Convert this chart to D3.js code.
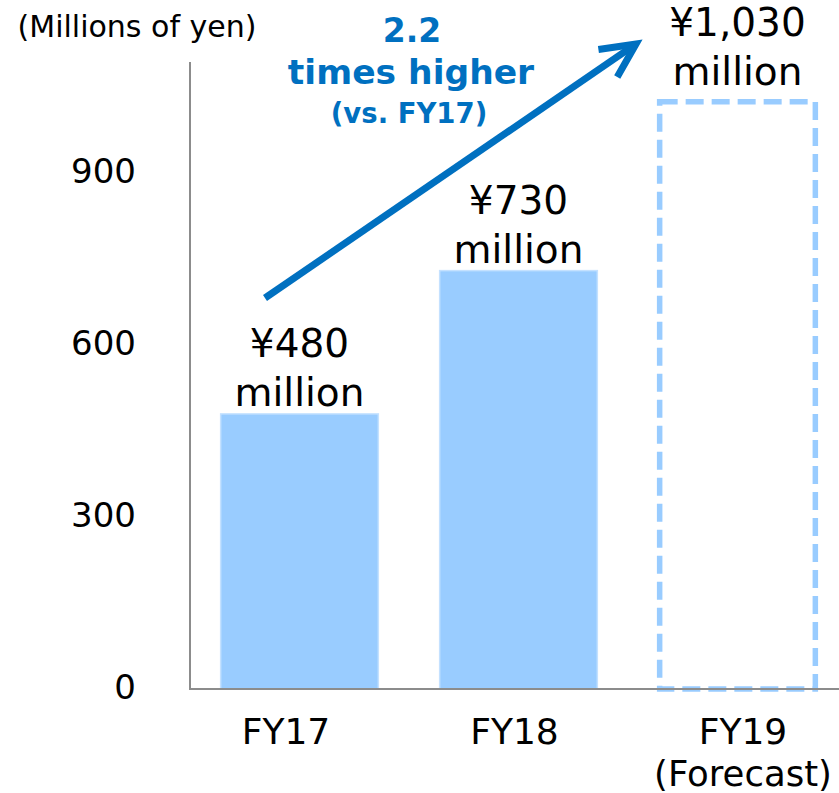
<!DOCTYPE html>
<html>
<head>
<meta charset="utf-8">
<script src="https://cdn.jsdelivr.net/npm/d3@7"></script>
<style>
  html, body { margin: 0; padding: 0; background: #ffffff; }
  svg { display: block; font-family: "DejaVu Sans", Verdana, sans-serif; }
</style>
</head>
<body>
<svg id="chart" width="839" height="793"></svg>
<script>
// Net sales by fiscal year (millions of yen)
const categories = ["FY17", "FY18", "FY19"];
const subLabels = ["", "", "(Forecast)"];
const values = [480, 730, 1030];
const isForecast = [false, false, true];
const yTicks = [0, 300, 600, 900];
const yMax = 1094;
const unitLabel = "(Millions of yen)";
const growthLines = ["2.2", "times higher", "(vs. FY17)"];

const svg = d3.select("#chart");
const W = 839, H = 793;
const plotLeft = 190, plotBottom = 689, plotTop = 62, plotRight = 847;

const x = d3.scaleBand().domain(categories).range([plotLeft, plotRight])
  .paddingInner(0.28).paddingOuter(0.14);
// Category captions sit on their own, slightly wider spacing
const xLabel = d3.scalePoint().domain(categories).range([286, 743]);
const y = d3.scaleLinear().domain([0, yMax]).range([plotBottom, plotTop]);

const data = categories.map((c, i) => ({ c, v: values[i], f: isForecast[i], sub: subLabels[i] }));

const barFill = "#99CCFF";
const blue = "#0070C0";
const axisColor = "#8c8c8c";

// Bars (actuals filled, forecast as dashed outline)
svg.append("g").selectAll("rect.actual")
  .data(data.filter(d => !d.f))
  .join("rect")
  .attr("class", "actual")
  .attr("x", d => x(d.c))
  .attr("y", d => y(d.v))
  .attr("width", x.bandwidth())
  .attr("height", d => y(0) - y(d.v))
  .attr("fill", barFill)
  .attr("stroke", "#c4e1ff")
  .attr("stroke-width", 1.5);

svg.append("g").selectAll("rect.forecast")
  .data(data.filter(d => d.f))
  .join("rect")
  .attr("class", "forecast")
  .attr("x", d => x(d.c) + 1)
  .attr("y", d => y(d.v) + 3)
  .attr("width", x.bandwidth() - 2)
  .attr("height", d => y(0) - y(d.v) - 3)
  .attr("fill", "none")
  .attr("stroke", barFill)
  .attr("stroke-width", 5.5)
  .attr("stroke-dasharray", "18 8");

// Axes: plain grey lines, no tick marks
svg.append("line")
  .attr("x1", plotLeft).attr("x2", W)
  .attr("y1", y(0)).attr("y2", y(0))
  .attr("stroke", axisColor).attr("stroke-width", 2);
svg.append("line")
  .attr("x1", plotLeft).attr("x2", plotLeft)
  .attr("y1", y(yMax)).attr("y2", y(0) + 1)
  .attr("stroke", axisColor).attr("stroke-width", 2);

// Y tick labels
svg.append("g").selectAll("text")
  .data(yTicks)
  .join("text")
  .attr("x", 136)
  .attr("y", d => y(d) + 10)
  .attr("text-anchor", "end")
  .attr("font-size", 34)
  .attr("fill", "#000")
  .text(d => d3.format(",")(d));

// Unit label
svg.append("text")
  .attr("x", 137).attr("y", 37)
  .attr("text-anchor", "middle")
  .attr("font-size", 30)
  .attr("fill", "#000")
  .text(unitLabel);

// Category labels
const xl = svg.append("g").selectAll("g")
  .data(data)
  .join("g");
xl.append("text")
  .attr("x", d => xLabel(d.c))
  .attr("y", 744)
  .attr("text-anchor", "middle")
  .attr("font-size", 36)
  .text(d => d.c);
xl.filter(d => d.sub).append("text")
  .attr("x", d => xLabel(d.c))
  .attr("y", 786)
  .attr("text-anchor", "middle")
  .attr("font-size", 35.5)
  .text(d => d.sub);

// Value labels above bars
const vl = svg.append("g").selectAll("g")
  .data(data)
  .join("g");
const labelGap = d => d.f ? 14 : 8;
vl.append("text")
  .attr("x", d => x(d.c) + x.bandwidth() / 2)
  .attr("y", d => y(d.v) - labelGap(d) - 49)
  .attr("text-anchor", "middle")
  .attr("font-size", 39)
  .text(d => "¥" + d3.format(",")(d.v));
vl.append("text")
  .attr("x", d => x(d.c) + x.bandwidth() / 2)
  .attr("y", d => y(d.v) - labelGap(d))
  .attr("text-anchor", "middle")
  .attr("font-size", 39)
  .text("million");

// Growth arrow
const ax0 = 265, ay0 = 298, ax1 = 636, ay1 = 44;
const ang = Math.atan2(ay1 - ay0, ax1 - ax0);
const headLen = 38, headAng = 26 * Math.PI / 180;
svg.append("line")
  .attr("x1", ax0).attr("y1", ay0)
  .attr("x2", ax1 - 3 * Math.cos(ang)).attr("y2", ay1 - 3 * Math.sin(ang))
  .attr("stroke", blue).attr("stroke-width", 7);
const a1 = [ax1 - headLen * Math.cos(ang - headAng), ay1 - headLen * Math.sin(ang - headAng)];
const a2 = [ax1 - headLen * Math.cos(ang + headAng), ay1 - headLen * Math.sin(ang + headAng)];
svg.append("path")
  .attr("d", d3.line()([a1, [ax1, ay1], a2]))
  .attr("fill", "none")
  .attr("stroke", blue).attr("stroke-width", 7)
  .attr("stroke-linejoin", "miter")
  .attr("stroke-miterlimit", 10);

// Growth annotation
const ann = svg.append("g").attr("fill", blue).attr("font-weight", "bold").attr("text-anchor", "middle");
ann.append("text").attr("x", 412).attr("y", 42).attr("font-size", 33).text(growthLines[0]);
ann.append("text").attr("x", 411).attr("y", 84).attr("font-size", 34.5).text(growthLines[1]);
ann.append("text").attr("x", 409).attr("y", 123).attr("font-size", 27.5).text(growthLines[2]);
</script>
</body>
</html>
